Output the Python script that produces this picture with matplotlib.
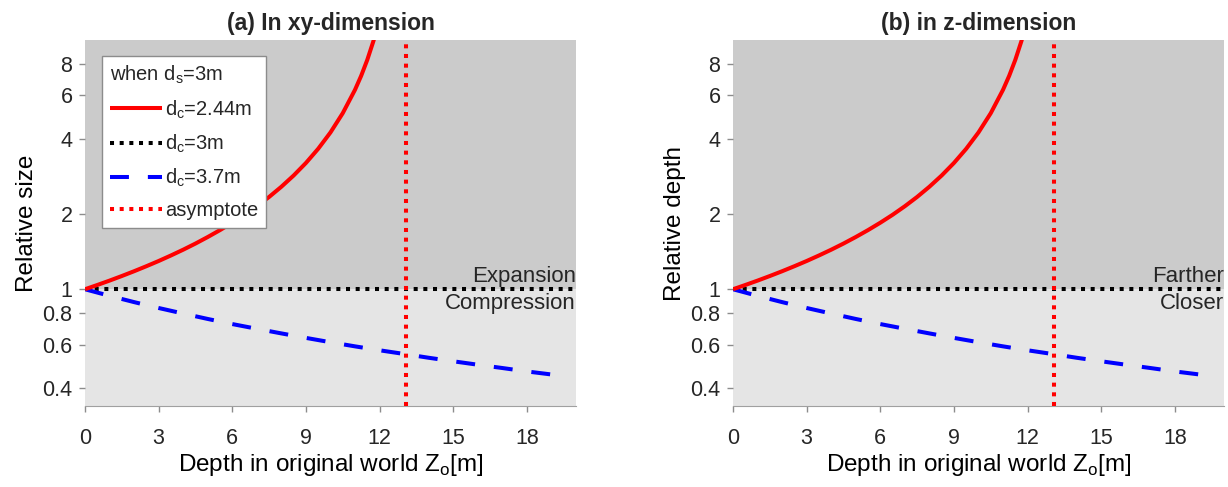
import matplotlib
matplotlib.use("Agg")
import matplotlib.pyplot as plt
from matplotlib.ticker import FixedLocator, FixedFormatter, NullLocator

# data (both panels show the same curves)
z_red = [0, 0.5, 1, 1.5, 2, 2.5, 3, 3.5, 4, 4.5, 5, 5.5, 6, 6.5, 7, 7.5,
         8, 8.5, 9, 9.5, 10, 10.5, 11, 11.25, 11.5, 11.75, 12]
rel_red = [1.000, 1.040, 1.083, 1.130, 1.181, 1.237, 1.298, 1.366, 1.441,
           1.525, 1.620, 1.727, 1.849, 1.989, 2.153, 2.346, 2.578, 2.860,
           3.211, 3.661, 4.257, 5.086, 6.314, 7.181, 8.325, 9.901, 12.21]

z_blue = [0, 1, 2, 3, 4, 5, 6, 7, 8, 9, 10, 11, 12, 13, 14, 15, 16, 17,
          18, 19, 19.4]
rel_blue = [1.000, 0.941, 0.888, 0.841, 0.799, 0.760, 0.725, 0.694, 0.665,
            0.638, 0.613, 0.590, 0.569, 0.550, 0.531, 0.514, 0.498, 0.483,
            0.468, 0.455, 0.450]

z_black = [0, 20]
rel_black = [1, 1]

z_asym = 13.07

panel_titles = ['(a) In xy-dimension', '(b) in z-dimension']
y_labels = ['Relative size', 'Relative depth']
upper_text = ['Expansion', 'Farther']
lower_text = ['Compression', 'Closer']

x_ticks = [0, 3, 6, 9, 12, 15, 18]
y_ticks = [0.4, 0.6, 0.8, 1, 2, 4, 6, 8]
y_tick_labels = ['0.4', '0.6', '0.8', '1', '2', '4', '6', '8']

legend_title = r'when d$_{\mathregular{s}}$=3m'
legend_labels = [r'd$_{\mathregular{c}}$=2.44m', r'd$_{\mathregular{c}}$=3m',
                 r'd$_{\mathregular{c}}$=3.7m', 'asymptote']

# style
font_color = '#262626'
tick_color = '#8c8c8c'
upper_bg = '#cbcbcb'
lower_bg = '#e5e5e5'
lw = 2.9
y_min, y_max = 0.34, 10

plt.rcParams.update({'font.family': ['Liberation Sans', 'DejaVu Sans'],
                     'mathtext.fontset': 'custom',
                     'mathtext.rm': 'Liberation Sans',
                     'text.color': font_color})

fig = plt.figure(figsize=(12.28, 4.87), dpi=100)
ax_a = fig.add_axes([0.0692, 0.1663, 0.3998, 0.7515])
ax_b = fig.add_axes([0.5969, 0.1663, 0.3998, 0.7515])

for i, ax in enumerate([ax_a, ax_b]):
    ax.set_yscale('log')
    ax.set_xlim(0, 20)
    ax.set_ylim(y_min, y_max)

    ax.axhspan(1, y_max, color=upper_bg, zorder=0, lw=0)
    ax.axhspan(y_min, 1, color=lower_bg, zorder=0, lw=0)

    l_red, = ax.plot(z_red, rel_red, color='#ff0000', lw=lw,
                     solid_capstyle='butt', zorder=4)
    l_black, = ax.plot(z_black, rel_black, color='black', lw=lw,
                       linestyle=(0, (1, 1.4)), zorder=2)
    l_blue, = ax.plot(z_blue, rel_blue, color='#0000ff', lw=lw,
                      linestyle=(0, (4.7, 4.7)), zorder=3)
    l_asym = ax.axvline(z_asym, color='#ff0000', lw=lw,
                        linestyle=(0, (1, 1.4)), zorder=5)

    ax.set_title(panel_titles[i], fontsize=16.5, fontweight='bold', pad=7,
                 color=font_color)
    ax.set_ylabel(y_labels[i], fontsize=17.5, labelpad=3)
    ax.set_xlabel(r'Depth in original world Z$_{\mathregular{o}}$[m]',
                  fontsize=17.5, labelpad=2)

    ax.xaxis.set_major_locator(FixedLocator(x_ticks))
    ax.yaxis.set_major_locator(FixedLocator(y_ticks))
    ax.yaxis.set_major_formatter(FixedFormatter(y_tick_labels))
    ax.yaxis.set_minor_locator(NullLocator())
    ax.tick_params(axis='both', direction='out', length=4, width=1,
                   color=tick_color, labelcolor=font_color, labelsize=15.5)
    ax.tick_params(axis='x', pad=12)
    ax.tick_params(axis='y', pad=5)

    for side in ['top', 'right', 'left']:
        ax.spines[side].set_visible(False)
    ax.spines['bottom'].set_color('#a0a0a0')

    ax.annotate(upper_text[i], xy=(1, 1), xycoords=('axes fraction', 'data'),
                xytext=(0, 5), textcoords='offset points',
                ha='right', va='baseline', fontsize=16, zorder=6)
    ax.annotate(lower_text[i], xy=(1, 1), xycoords=('axes fraction', 'data'),
                xytext=(0, -3), textcoords='offset points',
                ha='right', va='top', fontsize=16, zorder=6)

    if i == 0:
        leg = ax.legend([l_red, l_black, l_blue, l_asym], legend_labels,
                        title=legend_title, title_fontsize=14.5,
                        fontsize=14.5, loc='upper left',
                        bbox_to_anchor=(0.034, 0.957), borderaxespad=0,
                        fancybox=False, framealpha=1, edgecolor='#8c8c8c',
                        handlelength=2.6, handletextpad=0.15,
                        labelspacing=0.6, borderpad=0.4,
                        alignment='left')
        leg.get_frame().set_linewidth(1)
        leg.set_zorder(10)

fig.savefig('out.png', dpi=100)
